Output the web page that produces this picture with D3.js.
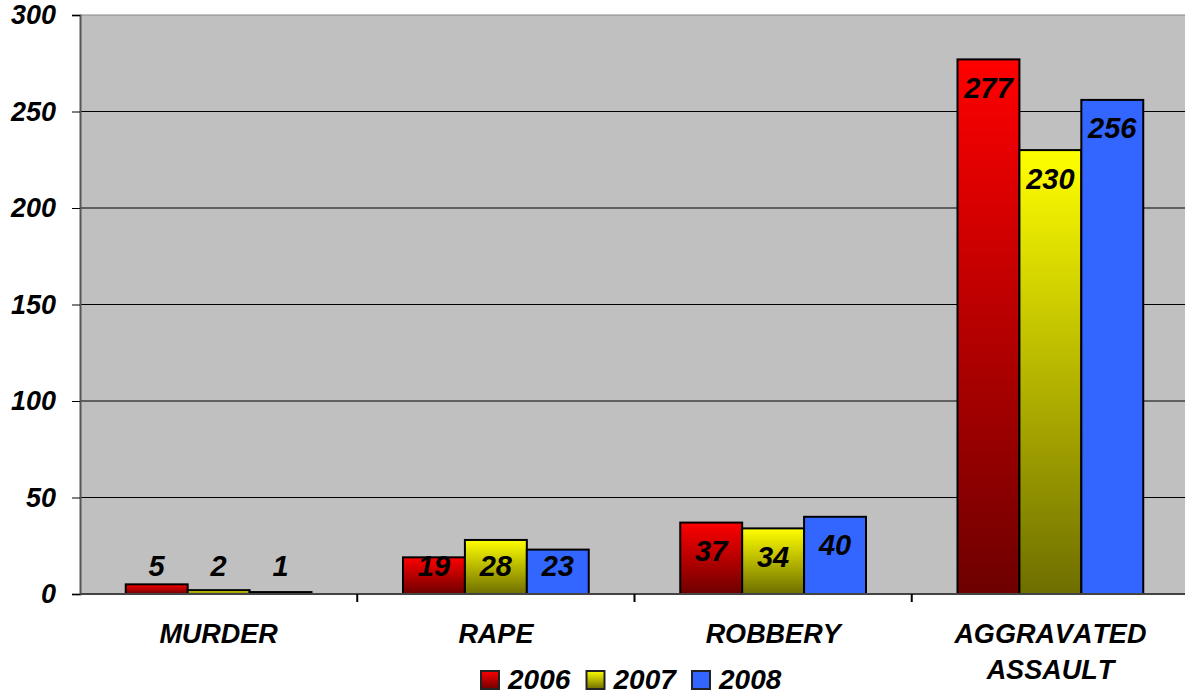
<!DOCTYPE html>
<html>
<head>
<meta charset="utf-8">
<script src="https://cdn.jsdelivr.net/npm/d3@7"></script>
<style>
  body { margin: 0; background: #fff; }
  text { font-family: "Liberation Sans", Arial, sans-serif; font-weight: bold; font-style: italic; font-kerning: none; }
</style>
</head>
<body>
<svg width="1185" height="696"></svg>
<script>
var categories = [["MURDER"], ["RAPE"], ["ROBBERY"], ["AGGRAVATED", "ASSAULT"]];
var years = ["2006", "2007", "2008"];
var v2006 = [5, 19, 37, 277];
var v2007 = [2, 28, 34, 230];
var v2008 = [1, 23, 40, 256];
var yTicks = [0, 50, 100, 150, 200, 250, 300];

var series = [v2006, v2007, v2008];

var svg = d3.select("svg"),
    margin = {left: 80, right: 0, top: 15, bottom: 102},
    width = +svg.attr("width") - margin.left - margin.right,
    height = +svg.attr("height") - margin.top - margin.bottom;

// gradients
var defs = svg.append("defs");
var grads = [
  {id: "g2006", top: "#ff0000", bottom: "#6e0000"},
  {id: "g2007", top: "#ffff00", bottom: "#6e6e00"},
  {id: "g2008", top: "#3366ff", bottom: "#3366ff"}
];
grads.forEach(function(g) {
  var lg = defs.append("linearGradient")
      .attr("id", g.id)
      .attr("x1", 0).attr("y1", 0).attr("x2", 0).attr("y2", 1);
  lg.append("stop").attr("offset", "0%").attr("stop-color", g.top);
  lg.append("stop").attr("offset", "100%").attr("stop-color", g.bottom);
});

var g = svg.append("g").attr("transform", "translate(" + margin.left + "," + margin.top + ")");

// plot area runs a little past the right edge
var x0 = d3.scaleBand()
    .domain(d3.range(categories.length))
    .range([0, width + 4])
    .paddingInner(0.33)
    .paddingOuter(0.165);

var x1 = d3.scaleBand()
    .domain(d3.range(years.length))
    .range([0, x0.bandwidth()]);

var y = d3.scaleLinear().domain([0, 300]).range([height, 0]);

// plot background
g.append("rect")
    .attr("width", width)
    .attr("height", height)
    .attr("fill", "#c0c0c0");

// gridlines
g.selectAll("line.grid")
  .data(yTicks.filter(function(d) { return d > 0; }))
  .enter().append("line")
    .attr("class", "grid")
    .attr("x1", 0).attr("x2", width)
    .attr("y1", function(d) { return y(d); })
    .attr("y2", function(d) { return y(d); })
    .attr("stroke", function(d) { return d == 300 ? "#888" : "#000"; })
    .attr("stroke-width", 1);

// y axis
var yAxis = g.append("g")
    .call(d3.axisLeft(y).tickValues(yTicks).tickSize(8).tickPadding(16));
yAxis.select(".domain").attr("stroke", "#555").attr("stroke-width", 2);
yAxis.selectAll(".tick line").attr("stroke", "#000");
yAxis.selectAll(".tick text")
    .attr("font-size", 27)
    .attr("fill", "#000")
    .attr("font-family", "'Liberation Sans', Arial, sans-serif");

// bars
var groups = g.selectAll("g.cat")
  .data(categories)
  .enter().append("g")
    .attr("class", "cat")
    .attr("transform", function(d, i) { return "translate(" + x0(i) + ",0)"; });

groups.selectAll("rect")
  .data(function(d, i) { return series.map(function(s, j) { return {v: s[i], j: j}; }); })
  .enter().append("rect")
    .attr("x", function(d) { return x1(d.j); })
    .attr("y", function(d) { return y(d.v); })
    .attr("width", x1.bandwidth())
    .attr("height", function(d) { return height - y(d.v); })
    .attr("fill", function(d) { return "url(#" + grads[d.j].id + ")"; })
    .attr("stroke", "#000")
    .attr("stroke-width", 2);

groups.selectAll("text.val")
  .data(function(d, i) { return series.map(function(s, j) { return {v: s[i], j: j}; }); })
  .enter().append("text")
    .attr("class", "val")
    .attr("x", function(d) { return x1(d.j) + x1.bandwidth() / 2; })
    .attr("y", function(d) { return Math.min(y(d.v) + 28, height - 28); })
    .attr("dy", "0.36em")
    .attr("text-anchor", "middle")
    .attr("font-size", 29)
    .text(function(d) { return d.v; });

// x axis
g.append("line")
    .attr("x1", 0).attr("x2", width)
    .attr("y1", height).attr("y2", height)
    .attr("stroke", "#444").attr("stroke-width", 2);

g.selectAll("line.xtick")
  .data(d3.range(1, categories.length))
  .enter().append("line")
    .attr("class", "xtick")
    .attr("x1", function(d) { return x0(d) - x0.step() * x0.paddingInner() / 2; })
    .attr("x2", function(d) { return x0(d) - x0.step() * x0.paddingInner() / 2; })
    .attr("y1", height).attr("y2", height + 8)
    .attr("stroke", "#000").attr("stroke-width", 2);

var labels = g.selectAll("text.cat")
  .data(categories)
  .enter().append("text")
    .attr("class", "cat")
    .attr("text-anchor", "middle")
    .attr("font-size", 27)
    .attr("transform", function(d, i) { return "translate(" + (x0(i) + x0.bandwidth() / 2) + "," + (height + 49) + ")"; });

labels.selectAll("tspan")
  .data(function(d) { return d; })
  .enter().append("tspan")
    .attr("x", 0)
    .attr("dy", function(d, i) { return i == 0 ? 0 : 36; })
    .text(function(d) { return d; });

// legend
var legend = svg.append("g").attr("transform", "translate(481,671)");
var item = legend.selectAll("g")
  .data(years)
  .enter().append("g")
    .attr("transform", function(d, i) { return "translate(" + (i * 105.5) + ",0)"; });

item.append("rect")
    .attr("width", 18).attr("height", 18)
    .attr("fill", function(d, i) { return "url(#" + grads[i].id + ")"; })
    .attr("stroke", "#222").attr("stroke-width", 2);

item.append("text")
    .attr("x", 27)
    .attr("y", 18)
    .attr("font-size", 28)
    .text(function(d) { return d; });
</script>
</body>
</html>
